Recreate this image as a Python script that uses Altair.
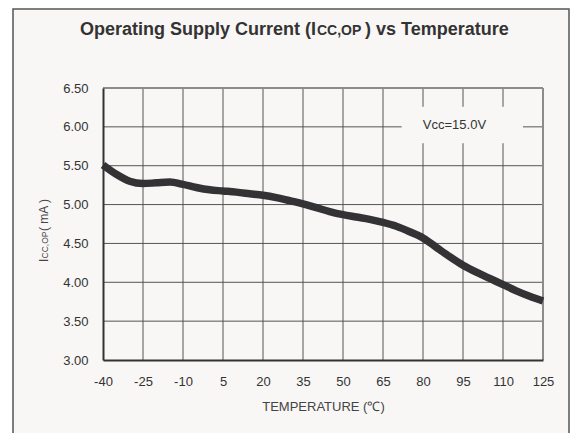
import altair as alt
import pandas as pd

# ---- data ----
temps = [-40, -35, -30, -25, -20, -15, -10, -5, 0, 5, 10, 15, 20, 25, 30, 35, 40,
         45, 50, 55, 60, 65, 70, 75, 80, 85, 90, 95, 100, 105, 110, 115, 120, 125]
icc = [5.51, 5.39, 5.30, 5.27, 5.28, 5.29, 5.26, 5.22, 5.19, 5.175, 5.16, 5.14, 5.12,
       5.09, 5.05, 5.01, 4.96, 4.91, 4.87, 4.84, 4.81, 4.77, 4.72, 4.65, 4.57, 4.45,
       4.33, 4.22, 4.13, 4.05, 3.97, 3.89, 3.82, 3.76]
x_ticks = [-40, -25, -10, 5, 20, 35, 50, 65, 80, 95, 110, 125]
y_ticks = [3.0, 3.5, 4.0, 4.5, 5.0, 5.5, 6.0, 6.5]
legend_label = ["Vcc=15.0V"]
legend_pos_x = [91.8]
legend_pos_y = [6.03]
legend_box_x = [72.0]
legend_box_x2 = [117.5]
legend_box_y = [5.79]
legend_box_y2 = [6.26]

BG = "#f8f7f5"
INK = "#333333"

curve = pd.DataFrame({"T": temps, "I": icc})
xs = alt.Scale(domain=[-40, 125], nice=False, zero=False)
ys = alt.Scale(domain=[3.0, 6.5], nice=False, zero=False)

xa = alt.Axis(values=x_ticks, ticks=False, grid=False, domainColor=INK,
              domainWidth=2, labelFont="Liberation Sans", labelFontSize=13,
              labelColor=INK, labelPadding=15, labelOverlap=False,
              labelFlush=False, labelExpr="'' + datum.value",
              title="TEMPERATURE (℃)",
              titleFont="Liberation Sans", titleFontSize=13,
              titleFontWeight="normal", titleColor="#444444",
              titlePadding=12, zindex=1)
ya = alt.Axis(values=y_ticks, format=".2f", ticks=False, grid=False,
              domainColor=INK, domainWidth=2, labelFont="Liberation Sans",
              labelFontSize=13, labelColor=INK, labelPadding=15,
              labelOverlap=False, labelFlush=False, title=None, zindex=1)

one = pd.DataFrame({"k": [0]})

frame = alt.Chart(one).mark_rect(fill=BG, stroke="#555555", strokeWidth=1.5).encode(
    x=alt.value(-90), x2=alt.value(466), y=alt.value(-79), y2=alt.value(400)
)

vgrid = alt.Chart(pd.DataFrame({"T": x_ticks[1:-1]})).mark_rule(
    color="#555555", strokeWidth=1).encode(x=alt.X("T:Q", scale=xs, axis=xa))
hgrid = alt.Chart(pd.DataFrame({"I": y_ticks[1:-1]})).mark_rule(
    color="#555555", strokeWidth=1).encode(y=alt.Y("I:Q", scale=ys, axis=ya))
rborder = alt.Chart(pd.DataFrame({"T": [x_ticks[-1]]})).mark_rule(
    color="#8c8c8c", strokeWidth=2).encode(x=alt.X("T:Q", scale=xs, axis=xa))
tborder = alt.Chart(pd.DataFrame({"I": [y_ticks[-1]]})).mark_rule(
    color="#8c8c8c", strokeWidth=2).encode(y=alt.Y("I:Q", scale=ys, axis=ya))

legbox = alt.Chart(pd.DataFrame({"x": legend_box_x, "x2": legend_box_x2,
                                 "y": legend_box_y, "y2": legend_box_y2})).mark_rect(
    fill=BG).encode(x=alt.X("x:Q", scale=xs, axis=xa), x2="x2:Q",
                    y=alt.Y("y:Q", scale=ys, axis=ya), y2="y2:Q")
legtext = alt.Chart(pd.DataFrame({"x": legend_pos_x, "y": legend_pos_y,
                                  "t": legend_label})).mark_text(
    font="Liberation Sans", fontSize=13, color=INK, align="center", baseline="middle").encode(
    x=alt.X("x:Q", scale=xs, axis=xa), y=alt.Y("y:Q", scale=ys, axis=ya), text="t:N")

line = alt.Chart(curve).mark_line(
    color="#333336", strokeWidth=7.5, interpolate="monotone", strokeCap="butt").encode(
    x=alt.X("T:Q", scale=xs, axis=xa),
    y=alt.Y("I:Q", scale=ys, axis=ya),
)

def txt(s, x, y, size, weight="normal", angle=0, color=INK):
    return alt.Chart(one).mark_text(
        text=s, font="Liberation Sans", fontSize=size, fontWeight=weight,
        color=color, align="left", baseline="alphabetic", angle=angle).encode(
        x=alt.value(x), y=alt.value(y))

title1 = txt("Operating Supply Current (I", -23, -53, 18, "bold")
title2 = txt("CC,OP", 214, -53, 14, "bold")
title3 = txt(") vs Temperature", 262, -53, 18, "bold")

ytitle1 = txt("I", -55.5, 174, 12, angle=270, color="#444444")
ytitle2 = txt("CC,OP", -55.5, 170.5, 8.5, angle=270, color="#444444")
ytitle3 = txt("( mA )", -55.5, 143, 12, angle=270, color="#444444")

chart = alt.layer(
    frame, vgrid, hgrid, rborder, tborder, legbox, legtext, line,
    title1, title2, title3, ytitle1, ytitle2, ytitle3
).properties(
    width=440, height=272,
    autosize=alt.AutoSizeParams(type="none"),
    padding={"left": 95, "top": 80, "right": 27, "bottom": 73},
).configure(background="white").configure_view(stroke=None).configure_axis(
    labelOverlap=False)

chart.save("out.html", embed_options={"renderer": "svg", "actions": False})
